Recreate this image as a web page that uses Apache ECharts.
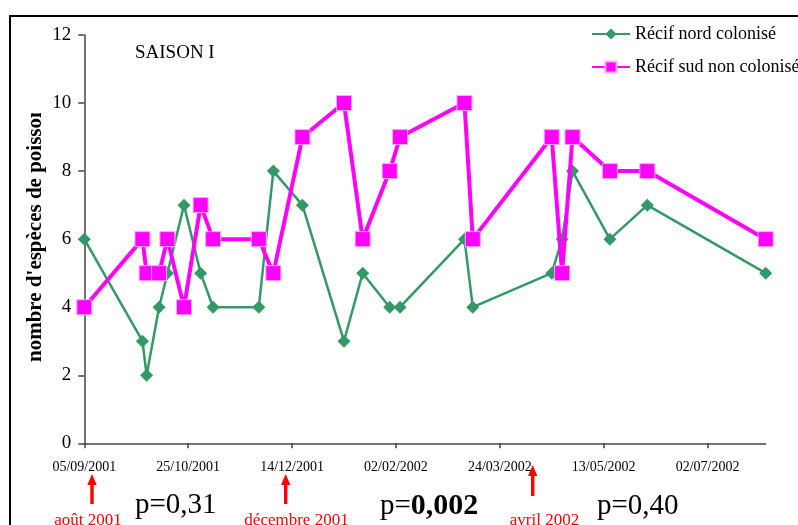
<!DOCTYPE html>
<html>
<head>
<meta charset="utf-8">
<script src="https://cdn.jsdelivr.net/npm/echarts@6/dist/echarts.min.js"></script>
<style>
html,body{margin:0;padding:0;background:#fff;}
#chart{width:798px;height:525px;}
</style>
</head>
<body>
<div id="chart"></div>
<script>
// ---- data ----
const startDate = '2001-09-05';
const dates = ['2001-09-05','2001-10-03','2001-10-05','2001-10-11','2001-10-15','2001-10-23','2001-10-31','2001-11-06','2001-11-28','2001-12-05','2001-12-19','2002-01-08','2002-01-17','2002-01-30','2002-02-04','2002-03-07','2002-03-11','2002-04-18','2002-04-23','2002-04-28','2002-05-16','2002-06-03','2002-07-30'];
const nord = [6,3,2,4,5,7,5,4,4,8,7,3,5,4,4,6,4,5,6,8,6,7,5];
const sud  = [4,6,5,5,6,4,7,6,6,5,9,10,6,8,9,10,6,9,5,9,8,8,6];
const seriesNames = ['Récif nord colonisé','Récif sud non colonisé'];
const xTickLabels = ['05/09/2001','25/10/2001','14/12/2001','02/02/2002','24/03/2002','13/05/2002','02/07/2002'];
const xTickDays = [0,50,100,150,200,250,300];
const xMaxDay = 328;
const yTicks = [0,2,4,6,8,10,12];
const periodLabels = ['août 2001','décembre 2001','avril 2002'];
const pValues = ['p=0,31','0,002','p=0,40'];
const panelTitle = 'SAISON I';
const yTitle = "nombre d'espèces de poissons";

// ---- build ----
const DAY = 86400000;
const t0 = Date.parse(startDate);
const dayOf = d => Math.round((Date.parse(d) - t0) / DAY);
const nordData = dates.map((d, i) => [dayOf(d), nord[i]]);
const sudData = dates.map((d, i) => [dayOf(d), sud[i]]);

const FONT = 'Liberation Serif';
const chart = echarts.init(document.getElementById('chart'), null, {renderer: 'canvas'});

function arrow(x, yTop, yBottom) {
  return {
    type: 'group', silent: true,
    children: [
      {type: 'polygon', shape: {points: [[x, yTop], [x - 4.7, yTop + 11], [x + 4.7, yTop + 11]]}, style: {fill: '#ff0000'}},
      {type: 'rect', shape: {x: x - 1.7, y: yTop + 10, width: 3.4, height: yBottom - yTop - 10}, style: {fill: '#ff0000'}}
    ]
  };
}

const option = {
  backgroundColor: '#ffffff',
  animation: false,
  grid: {left: 84.3, right: 32.3, top: 35, bottom: 81.7, containLabel: false},
  xAxis: {
    type: 'value', min: 0, max: xMaxDay, interval: 50,
    axisLine: {lineStyle: {color: '#444', width: 1.5}},
    axisTick: {show: true, length: 5, customValues: xTickDays, lineStyle: {color: '#444', width: 1.5}},
    axisLabel: {
      customValues: xTickDays, margin: 17,
      formatter: v => xTickLabels[xTickDays.indexOf(v)] || '',
      fontFamily: FONT, fontSize: 14, color: '#000'
    },
    splitLine: {show: false}
  },
  yAxis: {
    type: 'value', min: yTicks[0], max: yTicks[yTicks.length - 1], interval: 2,
    axisLine: {show: true, lineStyle: {color: '#444', width: 1.5}},
    axisTick: {show: true, length: 6, lineStyle: {color: '#444', width: 1.5}},
    axisLabel: {margin: 13, fontFamily: FONT, fontSize: 19, color: '#000'},
    splitLine: {show: false}
  },
  legend: {
    left: 591, top: 24, orient: 'vertical', padding: 0,
    itemWidth: 38, itemHeight: 14, itemGap: 13,
    textStyle: {fontFamily: FONT, fontSize: 18, color: '#000', lineHeight: 20},
    data: seriesNames
  },
  series: [
    {
      name: seriesNames[0], type: 'line', data: nordData, z: 2,
      symbol: 'diamond', symbolSize: 13,
      lineStyle: {color: '#339966', width: 2.5},
      itemStyle: {color: '#339966'}
    },
    {
      name: seriesNames[1], type: 'line', data: sudData, z: 3,
      symbol: 'rect', symbolSize: 15,
      lineStyle: {color: '#ff00ff', width: 4},
      itemStyle: {color: '#ff00ff', borderColor: '#ffa6ff', borderWidth: 1}
    }
  ],
  graphic: [
    {type: 'rect', silent: true, shape: {x: 10, y: 16, width: 830, height: 560}, style: {fill: 'none', stroke: '#000', lineWidth: 2}},
    {type: 'text', silent: true, x: 36, y: 362, rotation: Math.PI / 2,
      style: {text: yTitle, fontFamily: FONT, fontSize: 21, fontWeight: 'bold', fill: '#000', align: 'left', verticalAlign: 'middle'}},
    {type: 'rect', silent: true, shape: {x: 22, y: 20, width: 26, height: 93}, style: {fill: '#fff'}},
    {type: 'text', silent: true, x: 135, y: 53,
      style: {text: panelTitle, fontFamily: FONT, fontSize: 19, fill: '#000', align: 'left', verticalAlign: 'middle'}},
    arrow(92, 474, 504),
    arrow(285.7, 474, 504),
    arrow(532.7, 465, 496),
    {type: 'text', silent: true, x: 88, y: 521, style: {text: periodLabels[0], fontFamily: FONT, fontSize: 17, fill: '#ff0000', align: 'center', verticalAlign: 'middle'}},
    {type: 'text', silent: true, x: 296.5, y: 521, style: {text: periodLabels[1], fontFamily: FONT, fontSize: 17, fill: '#ff0000', align: 'center', verticalAlign: 'middle'}},
    {type: 'text', silent: true, x: 544.5, y: 521, style: {text: periodLabels[2], fontFamily: FONT, fontSize: 17, fill: '#ff0000', align: 'center', verticalAlign: 'middle'}},
    {type: 'text', silent: true, x: 135, y: 505, style: {text: pValues[0], fontFamily: FONT, fontSize: 29, fill: '#000', align: 'left', verticalAlign: 'middle'}},
    {type: 'text', silent: true, x: 380, y: 506,
      style: {text: '{a|p=}{b|' + pValues[1] + '}', align: 'left', verticalAlign: 'middle',
        rich: {a: {fontFamily: FONT, fontSize: 29, fill: '#000', color: '#000'}, b: {fontFamily: FONT, fontSize: 30, fontWeight: 'bold', fill: '#000', color: '#000'}}}},
    {type: 'text', silent: true, x: 597, y: 506, style: {text: pValues[2], fontFamily: FONT, fontSize: 29, fill: '#000', align: 'left', verticalAlign: 'middle'}}
  ]
};
chart.setOption(option);
</script>
</body>
</html>
